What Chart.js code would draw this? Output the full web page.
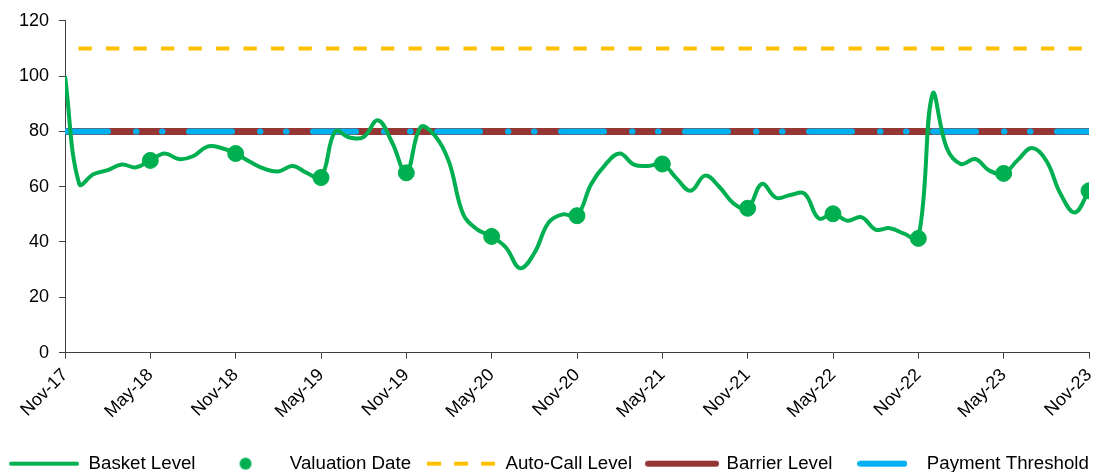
<!DOCTYPE html>
<html>
<head>
<meta charset="utf-8">
<script src="https://cdn.jsdelivr.net/npm/chart.js@4.4.1/dist/chart.umd.min.js"></script>
<style>
  html, body { margin: 0; padding: 0; background: #fff; }
  .chart-container { position: relative; width: 1098px; height: 472px; }
</style>
</head>
<body>
<div class="chart-container"><canvas id="chart"></canvas></div>
<script>
// x tick labels, one every 6 months
const tickLabels = ['Nov-17', 'May-18', 'Nov-18', 'May-19', 'Nov-19', 'May-20', 'Nov-20',
  'May-21', 'Nov-21', 'May-22', 'Nov-22', 'May-23', 'Nov-23'];

// monthly basket level, Nov-17 .. Nov-23
const basketLevel = [
  100, 61, 64.5, 66, 68, 67, 69.5, 72, 70, 71, 74.5, 74,
  72, 69, 66.5, 65.5, 67.5, 65, 63.3, 80, 77.8, 78, 84, 76,
  65, 81.5, 78.5, 69, 50, 44.5, 42, 38, 30.5, 36, 47, 50,
  49.5, 61, 68, 72, 68, 67.5, 68.2, 63, 58.5, 64, 60, 54,
  52.2, 61, 56, 57, 57.5, 48.5, 50.2, 47.7, 49, 44.5, 45, 43,
  41.3, 93.5, 74, 68.2, 70, 65.8, 64.8, 69.7, 74, 69.4, 57.4, 50.7,
  58.5
];

// semi-annual valuation dates, May-18 .. Nov-23
const valuationLevel = [69.5, 72, 63.3, 65, 42, 49.5, 68.2, 52.2, 50.2, 41.3, 64.8, 58.5];

const autoCallLevel = [110, 110];
const barrierLevel = [80, 80];
const paymentThreshold = [80, 80];

const GREEN = '#00B050';
const ORANGE = '#FFC000';
const BROWN = '#943634';
const BLUE = '#00B0F0';
const AXIS = '#404040';
const FONT = "'Liberation Sans', Arial, sans-serif";

const lastMonth = basketLevel.length - 1;
const flat = (arr) => [{ x: 0, y: arr[0] }, { x: lastMonth, y: arr[1] }];

// small canvases used as legend symbols
function symbol(w, h, draw) {
  const c = document.createElement('canvas');
  c.width = w; c.height = h;
  draw(c.getContext('2d'));
  return c;
}
function lineSymbol(w, color, width, dash) {
  return symbol(w, 10, (g) => {
    g.strokeStyle = color;
    g.lineWidth = width;
    g.lineCap = dash ? 'butt' : 'round';
    if (dash) g.setLineDash(dash);
    g.beginPath();
    g.moveTo(dash ? 0 : width / 2, 5);
    g.lineTo(dash ? w : w - width / 2, 5);
    g.stroke();
  });
}
const dotSymbol = symbol(14, 14, (g) => {
  g.fillStyle = GREEN;
  g.beginPath();
  g.arc(7, 7, 6, 0, Math.PI * 2);
  g.fill();
});

const legendItems = [
  { text: 'Basket Level', pointStyle: lineSymbol(70, GREEN, 4) },
  { text: 'Valuation Date', pointStyle: dotSymbol },
  { text: 'Auto-Call Level', pointStyle: lineSymbol(68, ORANGE, 4, [14, 13]) },
  { text: 'Barrier Level', pointStyle: lineSymbol(74, BROWN, 6) },
  { text: 'Payment Threshold', pointStyle: lineSymbol(50, BLUE, 6) }
];

new Chart(document.getElementById('chart'), {
  type: 'line',
  data: {
    datasets: [
      {
        label: 'Basket Level',
        data: basketLevel.map((v, i) => ({ x: i, y: v })),
        borderColor: GREEN,
        borderWidth: 4,
        tension: 0.4,
        pointRadius: 0,
        order: 1
      },
      {
        label: 'Valuation Date',
        data: valuationLevel.map((v, k) => ({ x: (k + 1) * 6, y: v })),
        showLine: false,
        pointRadius: 8,
        pointBackgroundColor: GREEN,
        pointBorderColor: GREEN,
        order: 0
      },
      {
        label: 'Auto-Call Level',
        data: flat(autoCallLevel),
        borderColor: ORANGE,
        borderWidth: 4,
        borderDash: [13.3, 14.2],
        borderDashOffset: 14,
        pointRadius: 0,
        order: 3
      },
      {
        label: 'Barrier Level',
        data: flat(barrierLevel),
        borderColor: BROWN,
        borderWidth: 7,
        pointRadius: 0,
        order: 4
      },
      {
        label: 'Payment Threshold',
        data: flat(paymentThreshold),
        borderColor: BLUE,
        borderWidth: 6,
        borderCapStyle: 'round',
        borderDash: [43, 28, 0.5, 25.5, 0.5, 26.5],
        pointRadius: 0,
        order: 2
      }
    ]
  },
  options: {
    responsive: true,
    maintainAspectRatio: false,
    animation: false,
    layout: { padding: { left: -10, right: -10, top: 13, bottom: -11 } },
    scales: {
      x: {
        type: 'linear',
        min: 0,
        max: lastMonth,
        grid: { drawOnChartArea: false, drawTicks: true, tickLength: 6, color: AXIS },
        border: { color: AXIS, width: 1 },
        ticks: {
          stepSize: 6,
          autoSkip: false,
          minRotation: 45,
          maxRotation: 45,
          padding: 6,
          color: '#000',
          font: { family: FONT, size: 18 },
          callback: (v) => tickLabels[v / 6]
        },
        afterFit: (scale) => {
          scale.paddingLeft = 0;
          scale.paddingRight = 1;
          scale.height += 11;
        }
      },
      y: {
        min: 0,
        max: 120,
        grid: { drawOnChartArea: false, drawTicks: true, tickLength: 6, color: AXIS },
        border: { color: AXIS, width: 1 },
        ticks: {
          stepSize: 20,
          padding: 10,
          color: '#000',
          font: { family: FONT, size: 18 }
        },
        afterFit: (scale) => {
          scale.width = 75;
        }
      }
    },
    plugins: {
      tooltip: { enabled: false },
      legend: {
        position: 'bottom',
        labels: {
          usePointStyle: true,
          pointStyleWidth: 70,
          padding: 15,
          color: '#000',
          font: { family: FONT, size: 18.7 },
          generateLabels: () => legendItems.map((it, i) => ({
            text: it.text,
            pointStyle: it.pointStyle,
            fillStyle: 'transparent',
            strokeStyle: 'transparent',
            lineWidth: 0,
            hidden: false,
            datasetIndex: i
          }))
        }
      }
    }
  }
});
</script>
</body>
</html>
